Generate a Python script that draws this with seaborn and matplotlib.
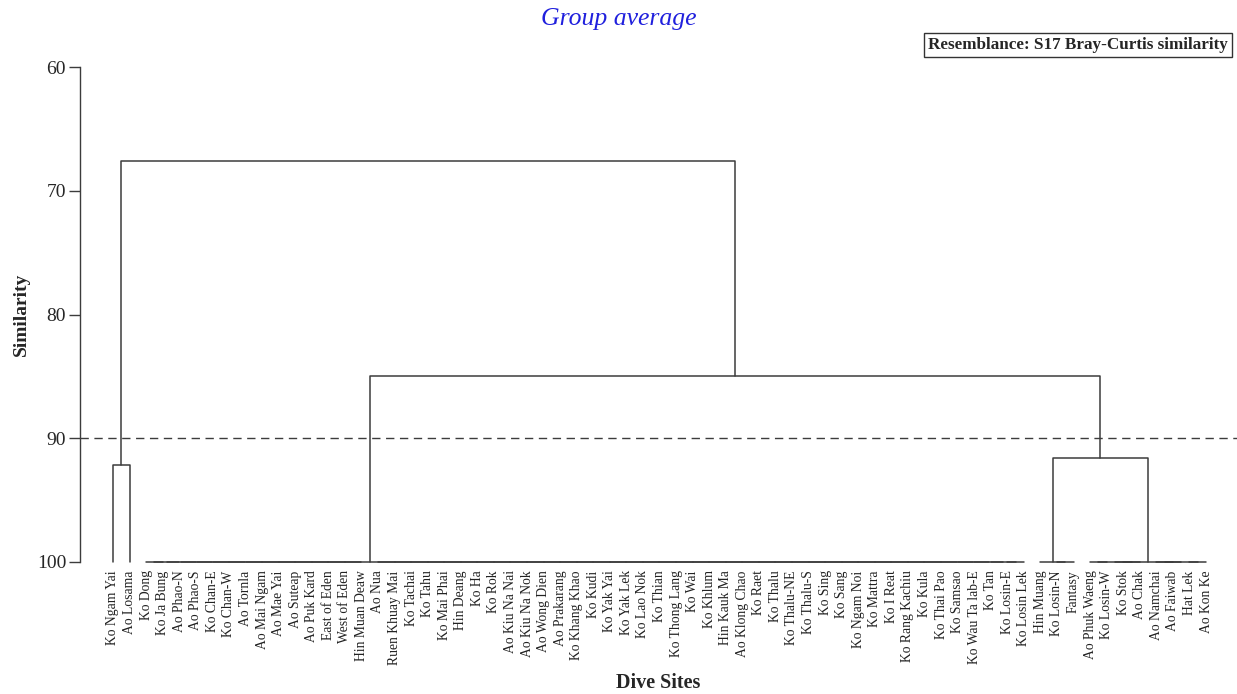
import matplotlib
matplotlib.use("Agg")
import matplotlib.pyplot as plt
import seaborn as sns
import pandas as pd

# Dive sites, in dendrogram order, grouped by the clusters they fall into
cluster_1 = ["Ko Ngam Yai", "Ao Losama"]
cluster_2a = ["Ko Dong", "Ko Ja Bung", "Ao Phao-N", "Ao Phao-S", "Ko Chan-E",
              "Ko Chan-W", "Ao Tornla", "Ao Mai Ngam", "Ao Mae Yai", "Ao Suteap",
              "Ao Puk Kard", "East of Eden", "West of Eden", "Hin Muan Deaw"]
cluster_2b = ["Ao Nua", "Ruen Khuay Mai", "Ko Tachai", "Ko Tahu", "Ko Mai Phai",
              "Hin Deang", "Ko Ha", "Ko Rok", "Ao Kiu Na Nai", "Ao Kiu Na Nok",
              "Ao Wong Dien", "Ao Prakarang", "Ko Khang Khao", "Ko Kudi",
              "Ko Yak Yai", "Ko Yak Lek", "Ko Lao Nok", "Ko Thian", "Ko Thong Lang",
              "Ko Wai", "Ko Khlum", "Hin Kauk Ma", "Ao Klong Chao", "Ko Raet",
              "Ko Thalu", "Ko Thalu-NE", "Ko Thalu-S", "Ko Sing", "Ko Sang",
              "Ko Ngam Noi", "Ko Mattra", "Ko I Reat", "Ko Rang Kachiu", "Ko Kula",
              "Ko Thai Pao", "Ko Samsao", "Ko Wau Ta lab-E", "Ko Tan", "Ko Losin-E",
              "Ko Losin Lek"]
cluster_3a = ["Hin Muang", "Ko Losin-N", "Fantasy"]
cluster_3b = ["Ao Phuk Waeng", "Ko Losin-W", "Ko Stok", "Ao Chak", "Ao Namchai",
              "Ao Faiwab", "Hat Lek", "Ao Kon Ke"]

leaves = cluster_1 + cluster_2a + cluster_2b + cluster_3a + cluster_3b

# similarity (%) at which clusters join
sim_leaf = 100.0
sim_1 = 92.2
sim_3 = 91.6
sim_23 = 85.0
sim_root = 67.6
cut_level = 90

y_ticks = [60, 70, 80, 90, 100]


# tree nodes are (left, right, similarity); leaves are plain names
def chain_left(names, h):
    node = names[0]
    for n in names[1:]:
        node = (node, n, h)
    return node


def chain_right(names, h):
    node = names[-1]
    for n in reversed(names[:-1]):
        node = (n, node, h)
    return node


def balanced(names, h):
    if len(names) == 1:
        return names[0]
    mid = len(names) // 2
    return (balanced(names[:mid], h), balanced(names[mid:], h), h)


node_1 = (cluster_1[0], cluster_1[1], sim_1)
node_2 = (chain_left(cluster_2a, sim_leaf), chain_right(cluster_2b, sim_leaf), sim_leaf)
node_3a = (cluster_3a[0], (cluster_3a[1], cluster_3a[2], sim_leaf), sim_leaf)
node_3 = (node_3a, balanced(cluster_3b, sim_leaf), sim_3)
tree = (node_1, (node_2, node_3, sim_23), sim_root)

pos = {name: i for i, name in enumerate(leaves)}
rows = []


def walk(node):
    if isinstance(node, str):
        return pos[node], sim_leaf
    left, right, h = node
    x1, h1 = walk(left)
    x2, h2 = walk(right)
    for x, y in [(x1, h1), (x1, h), (x2, h), (x2, h2)]:
        rows.append({"x": x, "y": y})
    return (x1 + x2) / 2, h


walk(tree)
segments = pd.DataFrame(rows)
segments["seg"] = segments.index // 4

sns.set_theme(style="white")
plt.rcParams["font.family"] = ["Liberation Serif", "DejaVu Serif"]

fig = plt.figure(figsize=(12.37, 6.94), dpi=100)
ax = fig.add_axes([80 / 1237, 132 / 694, 1157 / 1237, 495 / 694])

line_col = "#3c3c3c"
sns.lineplot(data=segments, x="x", y="y", units="seg", estimator=None,
             sort=False, color=line_col, linewidth=1.1, ax=ax)
ax.axhline(cut_level, color=line_col, linewidth=1.0, linestyle=(0, (6, 4)))
for ln in ax.lines:
    ln.set_clip_on(False)

ax.set_xlim(-1.99, len(leaves) - 1 + 1.87)
ax.set_ylim(100, 60)
ax.set_yticks(y_ticks)
ax.set_yticklabels([str(t) for t in y_ticks], fontsize=14)
ax.set_xticks(range(len(leaves)))
ax.set_xticklabels(leaves, rotation=90, fontsize=9.8, color="#222222")
ax.tick_params(axis="x", length=0, pad=6)
ax.tick_params(axis="y", length=8, width=1, color=line_col, pad=2, left=True)

for side in ["top", "right", "bottom"]:
    ax.spines[side].set_visible(False)
ax.spines["left"].set_color(line_col)
ax.spines["left"].set_linewidth(1.0)

ax.set_ylabel("Similarity", fontsize=14, fontweight="bold", labelpad=5)
ax.set_xlabel("")
ax.text(0.5, -0.244, "Dive Sites", transform=ax.transAxes, ha="center",
        va="center", fontsize=14.5, fontweight="bold")

fig.text(0.5, 1 - 19 / 694, "Group average", ha="center", va="center",
         fontsize=18.5, fontstyle="italic", color="#2020dd")
fig.text(1228 / 1237, 1 - 45 / 694, "Resemblance: S17 Bray-Curtis similarity",
         ha="right", va="center", fontsize=12.3, fontweight="bold",
         bbox=dict(boxstyle="square,pad=0.22", facecolor="white",
                   edgecolor="#333333", linewidth=1.0))

fig.savefig("out.png", dpi=100)
